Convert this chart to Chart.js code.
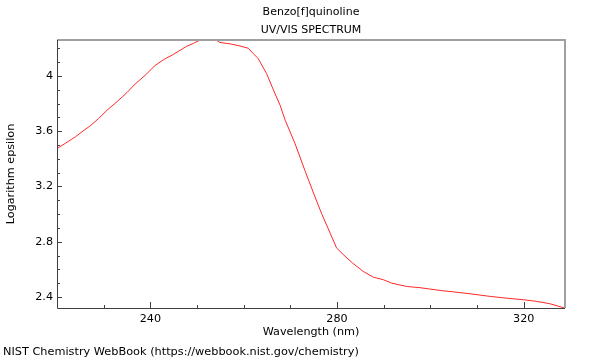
<!DOCTYPE html>
<html>
<head>
<meta charset="utf-8">
<script src="https://cdn.jsdelivr.net/npm/chart.js@4"></script>
<style>
html,body{margin:0;padding:0;background:#fff;}
#wrap{width:600px;height:360px;position:relative;}
</style>
</head>
<body>
<div id="wrap"><canvas id="c" width="600" height="360"></canvas></div>
<script>
// Data
const wavelengths = [220.0,221.7,223.9,226.0,227.1,228.9,230.7,232.4,233.9,235.0,236.7,238.9,241.0,243.0,244.9,247.8,249.2,250.6,252.5,254.2,254.9,257.1,259.2,261.0,262.1,263.1,264.9,266.3,267.8,268.9,271.0,273.1,275.3,276.7,278.5,279.9,281.3,283.3,284.9,285.6,287.8,289.9,291.7,294.9,297.8,299.9,302.1,304.9,308.5,312.8,316.4,319.9,322.8,325.6,328.85];
const logEpsilon = [3.474,3.510,3.558,3.612,3.638,3.691,3.751,3.800,3.845,3.880,3.940,4.005,4.075,4.121,4.155,4.215,4.235,4.259,4.262,4.259,4.242,4.232,4.217,4.200,4.160,4.126,4.017,3.904,3.788,3.679,3.510,3.317,3.123,3.003,2.864,2.755,2.708,2.646,2.604,2.585,2.543,2.525,2.500,2.476,2.467,2.457,2.447,2.437,2.423,2.404,2.391,2.380,2.368,2.351,2.319];
const xTickLabels = [240, 280, 320];
const yTickLabels = [2.4, 2.8, 3.2, 3.6, 4.0];
const xMinorTicks = [230,240,250,260,270,280,290,300,310,320];
const yMinorTicks = [2.4,2.5,2.6,2.7,2.8,2.9,3.0,3.1,3.2,3.3,3.4,3.5,3.6,3.7,3.8,3.9,4.0,4.1,4.2];
const titleText = "Benzo[f]quinoline";
const subtitleText = "UV/VIS SPECTRUM";
const xTitle = "Wavelength (nm)";
const yTitle = "Logarithm epsilon";
const footerText = "NIST Chemistry WebBook (https://webbook.nist.gov/chemistry)";

const FONT = "11px 'DejaVu Sans'";
const AXIS_FONT = "11.2px 'DejaVu Sans'";
const FOOT_FONT = "11.3px 'DejaVu Sans'";

const decor = {
  id: 'decor',
  afterDraw(chart) {
    const ctx = chart.ctx;
    const a = chart.chartArea;
    const xs = chart.scales.x, ys = chart.scales.y;
    ctx.save();
    // frame: top/right gray, left/bottom dark
    ctx.strokeStyle = '#a0a0a0';
    ctx.lineWidth = 2;
    ctx.beginPath();
    ctx.moveTo(a.left, a.top);
    ctx.lineTo(a.right, a.top);
    ctx.lineTo(a.right, a.bottom);
    ctx.stroke();
    ctx.strokeStyle = '#404040';
    ctx.lineWidth = 1;
    ctx.beginPath();
    ctx.moveTo(a.left + 0.5, a.top);
    ctx.lineTo(a.left + 0.5, a.bottom + 0.5);
    ctx.lineTo(a.right, a.bottom + 0.5);
    ctx.stroke();
    // inward ticks
    ctx.beginPath();
    xMinorTicks.forEach(v => {
      const px = Math.round(xs.getPixelForValue(v)) + 0.5;
      const len = xTickLabels.includes(v) ? 6 : 3;
      ctx.moveTo(px, a.bottom);
      ctx.lineTo(px, a.bottom - len);
    });
    yMinorTicks.forEach(v => {
      const py = Math.round(ys.getPixelForValue(v)) + 0.5;
      const major = yTickLabels.some(t => Math.abs(t - v) < 1e-6);
      ctx.moveTo(a.left, py);
      ctx.lineTo(a.left + (major ? 5 : 3), py);
    });
    ctx.stroke();
    // texts
    ctx.fillStyle = '#000';
    ctx.font = FONT;
    ctx.textAlign = 'center';
    ctx.textBaseline = 'middle';
    const cx = (a.left + a.right) / 2;
    ctx.fillText(titleText, cx, 12);
    ctx.fillText(subtitleText, cx, 30);
    ctx.font = AXIS_FONT;
    ctx.fillText(xTitle, cx, 332);
    ctx.save();
    ctx.translate(11, (a.top + a.bottom) / 2);
    ctx.rotate(-Math.PI / 2);
    ctx.fillText(yTitle, 0, 0);
    ctx.restore();
    ctx.font = FOOT_FONT;
    ctx.textAlign = 'left';
    ctx.fillText(footerText, 3, 352);
    ctx.restore();
  }
};

new Chart(document.getElementById('c'), {
  type: 'line',
  data: {
    datasets: [{
      data: wavelengths.map((w, i) => ({x: w, y: logEpsilon[i]})),
      borderColor: '#ff2828',
      borderWidth: 1,
      pointRadius: 0,
      tension: 0,
      fill: false
    }]
  },
  options: {
    responsive: false,
    animation: false,
    layout: {padding: {left: 0, top: 40, right: 35, bottom: 0}},
    plugins: {legend: {display: false}, tooltip: {enabled: false}, title: {display: false}},
    scales: {
      x: {
        type: 'linear',
        min: 220,
        max: 328.85,
        afterFit(s) { s.height = 52; },
        afterBuildTicks(s) { s.ticks = xTickLabels.map(v => ({value: v})); },
        grid: {display: false, drawTicks: false},
        border: {display: false},
        ticks: {
          padding: 4,
          color: '#000',
          font: {family: 'DejaVu Sans', size: 11.2},
          maxRotation: 0,
          callback: v => String(v)
        }
      },
      y: {
        type: 'linear',
        min: 2.32,
        max: 4.26,
        afterFit(s) { s.width = 57; },
        afterBuildTicks(s) { s.ticks = yTickLabels.map(v => ({value: v})); },
        grid: {display: false, drawTicks: false},
        border: {display: false},
        ticks: {
          padding: 4,
          color: '#000',
          font: {family: 'DejaVu Sans', size: 11.2},
          callback: v => (Math.round(v * 10) / 10).toString()
        }
      }
    }
  },
  plugins: [decor]
});
</script>
</body>
</html>
